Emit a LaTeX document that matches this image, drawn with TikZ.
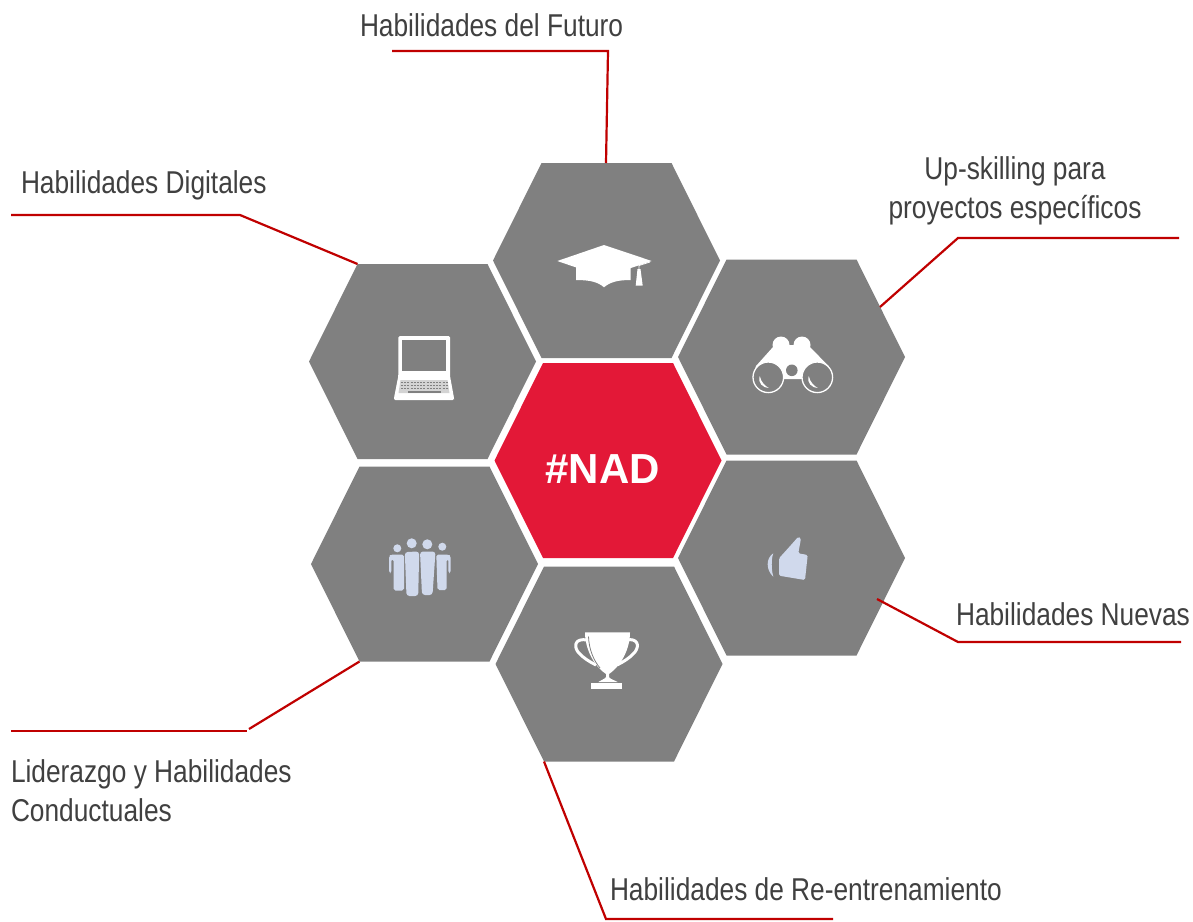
\documentclass[tikz,border=0pt]{standalone}
\usepackage{fontspec}
\usepackage{graphicx}
\setmainfont{Liberation Sans}
\definecolor{hexgray}{HTML}{808080}
\definecolor{hexred}{HTML}{E31837}
\definecolor{linered}{HTML}{C00000}
\definecolor{txt}{HTML}{404040}
\definecolor{pale}{HTML}{D0D9EC}
\newcommand{\stretched}[1]{\scalebox{1}[1.2]{#1}}
% name, x, y, colour: a flattened hexagon with named corners
\newcommand{\hexcell}[4]{%
  \fill[#4] (#2-113.5,#3) coordinate (#1-l)
    -- (#2-65,#3-97.5) coordinate (#1-tl)
    -- (#2+65,#3-97.5) coordinate (#1-tr)
    -- (#2+113.5,#3) coordinate (#1-r)
    -- (#2+65,#3+97.5) coordinate (#1-br)
    -- (#2-65,#3+97.5) coordinate (#1-bl) -- cycle;
  \coordinate (#1-c) at (#2,#3);
}
\tikzset{
  leader/.style={draw=linered,line width=2.2pt,line join=miter},
  lab/.style={text=txt,font=\fontsize{26.3}{38.5}\selectfont,inner sep=0pt,outer sep=0pt},
  nadlab/.style={text=white,font=\bfseries\fontsize{42}{46}\selectfont,inner sep=0pt,outer sep=0pt},
  whitefill/.style={fill=white,draw=none},
  palefill/.style={fill=pale,draw=none}
}
\begin{document}
\begin{tikzpicture}[x=1pt,y=-1pt]
\useasboundingbox (0,0) rectangle (1193,921);
\fill[white] (0,0) rectangle (1193,921);
% hexagons
\hexcell{hT}{606.5}{260.5}{hexgray}
\hexcell{hRT}{791.5}{357}{hexgray}
\hexcell{hLT}{422.5}{361.5}{hexgray}
\hexcell{hLB}{424.5}{564}{hexgray}
\hexcell{hRB}{791.5}{558}{hexgray}
\hexcell{hB}{609}{664}{hexgray}
\hexcell{hC}{608}{460.5}{hexred}
\node[nadlab,anchor=base west] (nad) at (545.5,483) {\#NAD};
% labels
\node[lab,anchor=base west] (lT) at (360,36) {\stretched{Habilidades del Futuro}};
\node[lab,anchor=base west] (lLT) at (21,193) {\stretched{Habilidades Digitales}};
\node[lab,align=center,anchor=center] (lRT) at (1015,191) {\stretched{Up-skilling para}\\\stretched{proyectos específicos}};
\node[lab,anchor=base west] (lRB) at (956,625) {\stretched{Habilidades Nuevas}};
\node[lab,align=left,anchor=west] (lLB) at (11,790.5) {\stretched{Liderazgo y Habilidades}\\\stretched{Conductuales}};
\node[lab,anchor=base west] (lB) at (610,900) {\stretched{Habilidades de Re-entrenamiento}};
% connectors
\coordinate (a1) at (392,51); \coordinate (a2) at (608,51); \coordinate (a3) at (606,163);
\draw[leader] (a1) -- (a2) -- (a3);
\coordinate (b1) at (11,215); \coordinate (b2) at (240,215);
\draw[leader] (b1) -- (b2) -- (hLT-tl);
\coordinate (c1) at (1179,238); \coordinate (c2) at (958,238); \coordinate (c3) at (880,307);
\draw[leader] (c1) -- (c2) -- (c3);
\coordinate (d1) at (1181,642); \coordinate (d2) at (958,642); \coordinate (d3) at (877,599);
\draw[leader] (d1) -- (d2) -- (d3);
\coordinate (e1) at (11,731); \coordinate (e2) at (247,731); \coordinate (e3) at (249,729);
\draw[leader] (e1) -- (e2);
\draw[leader] (e3) -- (hLB-bl);
\coordinate (f1) at (833,919); \coordinate (f2) at (606,919);
\draw[leader] (f1) -- (f2) -- (hB-bl);
% graduation cap
\fill[whitefill] (557.3,261) -- (604,245) -- (651.7,261) -- (604,277) -- cycle;
\fill[whitefill] (576,265) -- (604,275) -- (630.7,265) -- (630.7,280) .. controls (618,280) and (610,282) .. (604,287.3) .. controls (598,282) and (590,280) .. (576,280) -- cycle;
\draw[white,line width=0.8pt] (650,262) -- (639,265.5) -- (639,272);
\fill[whitefill] (637.5,269) -- (640.5,269) -- (642.7,285.7) -- (635.7,285.7) -- cycle;
% laptop
\fill[whitefill,rounded corners=1.5pt] (398.3,336) -- (450,336) -- (450,376) -- (454,398) -- (454,400) -- (394,400) -- (394,398) -- (398.3,376) -- cycle;
\fill[hexgray] (402.3,340) rectangle (445.7,371);
\fill[hexgray!35!white] (400.5,380) -- (447.5,380) -- (449.5,393) -- (398.5,393) -- cycle;
\foreach \yy in {382.5,385.5,388.5}{\draw[hexgray,line width=1.6pt,dash pattern=on 2pt off 1.2pt] (401,\yy) -- (448,\yy);}
\draw[hexgray,line width=1.8pt] (408,392) -- (441,392);
% binoculars
\fill[whitefill] (781,345) circle (8.5);
\fill[whitefill] (802,345) circle (8.5);
\fill[whitefill] (752.7,377) -- (756,366) -- (773,347) -- (790,345) -- (793,345) -- (810,347) -- (828.5,366) -- (831.7,377) -- (817,379) -- (768,379) -- cycle;
\foreach \cx in {768.3,817.3}{
  \fill[hexgray] (\cx,377.3) circle (15.3);
  \draw[white,line width=1.3pt] (\cx,377.3) circle (15.3);
  \fill[whitefill] (\cx-8.5,376) .. controls (\cx-7.5,382) and (\cx-3,386) .. (\cx+0.5,388) .. controls (\cx-5,388) and (\cx-11,383) .. (\cx-8.5,376) -- cycle;
}
\fill[hexgray] (791.8,370.3) circle (5.8);
% people
\begin{scope}[palefill]
\fill (397.3,548.3) circle (4);
\fill (411.7,543.3) circle (5);
\fill (427.3,544.3) circle (5);
\fill (442.3,546.7) circle (4);
\fill[rounded corners=1.8pt] (389,573) -- (389,556) -- (391,554.5) -- (404,554.5) -- (404,590.5) -- (393.5,590.5) -- (393.5,559) -- (391.4,559) -- (391.4,573) -- cycle;
\fill[rounded corners=3pt] (404.8,552) -- (419.2,551.5) -- (418.2,596) -- (406.5,596) -- cycle;
\fill[rounded corners=3pt] (420,551.5) -- (435.5,551.5) -- (432.5,595) -- (422,595) -- cycle;
\fill[rounded corners=1.8pt] (450.7,573) -- (450.7,556) -- (448.5,554.5) -- (436.3,554.5) -- (437.5,590) -- (446.7,590) -- (446.7,559) -- (448.4,559) -- (448.4,573) -- cycle;
\end{scope}
% thumb
\fill[palefill,rounded corners=1.5pt] (779,558.3) -- (791,545) -- (798.3,536.7) -- (801,538.3) -- (798.3,553.3) -- (807.7,555) -- (805,580) -- (779,575.7) -- cycle;
\fill[palefill] (773.3,553.3) .. controls (765.8,558) and (765.8,570) .. (773.3,576.7) .. controls (771.2,570) and (771.2,558) .. (773.3,553.3) -- cycle;
% trophy
\fill[whitefill] (585,632.3) -- (630,632.3) .. controls (630,648) and (622,665) .. (609,674) -- (609,677) .. controls (610,679) and (614,680) .. (617.7,682) -- (598.3,682) .. controls (601,680) and (605,679) .. (606,677) -- (606,674) .. controls (595,667) and (585,650) .. (585,632.3) -- cycle;
\fill[whitefill] (591,682.5) rectangle (622.3,689);
\draw[white,line width=3pt] (587,640) .. controls (576,638) and (573,645) .. (578,652) .. controls (583,658) and (590,662) .. (596,665);
\draw[white,line width=3pt] (627,640) .. controls (637,638) and (640,645) .. (635,652) .. controls (630,658) and (623,662) .. (617,665);
\draw[hexgray,line width=0.8pt] (588.5,636.5) .. controls (589,650) and (594,661) .. (600,668);
\end{tikzpicture}
\end{document}
